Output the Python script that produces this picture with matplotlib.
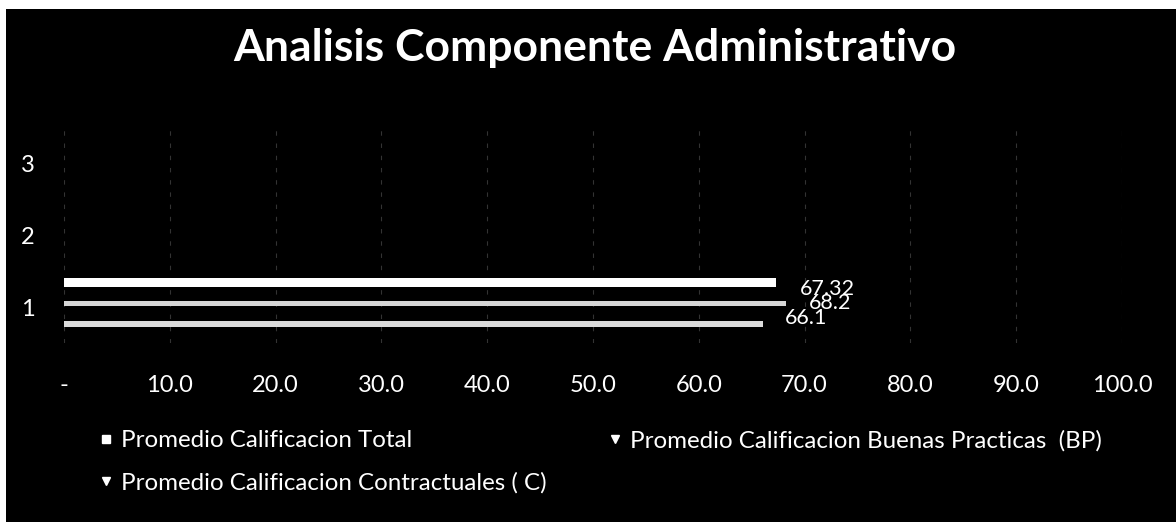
import matplotlib
matplotlib.use("Agg")
import matplotlib.pyplot as plt
from matplotlib.lines import Line2D
from matplotlib.patches import Rectangle
from matplotlib.ticker import FuncFormatter

# ---- data ----
title = "Analisis Componente Administrativo"
categories = [1, 2, 3]
series_names = [
    "Promedio Calificacion Total",
    "Promedio Calificacion Buenas Practicas  (BP)",
    "Promedio Calificacion Contractuales ( C)",
]
series_values = [67.32, 68.2, 66.1]   # all at category 1
value_labels = ["67.32", "68.2", "66.1"]
x_ticks = [0, 10, 20, 30, 40, 50, 60, 70, 80, 90, 100]

# ---- styling ----
plt.rcParams['font.family'] = ['Lato', 'DejaVu Sans']
W, H, DPI = 1176, 522, 100
fig = plt.figure(figsize=(W / DPI, H / DPI), dpi=DPI, facecolor='black')

# scanned white margins
fig.patches.append(Rectangle((0, 1 - 9 / H), 1, 9 / H, transform=fig.transFigure,
                             facecolor='white', edgecolor='none', zorder=0))
fig.patches.append(Rectangle((0, 0), 6 / W, 1, transform=fig.transFigure,
                             facecolor='white', edgecolor='none', zorder=0))

ax = fig.add_axes([64 / W, 179 / H, (1122 - 64) / W, (343 - 127) / H])
ax.set_facecolor('black')
ax.set_xlim(0, 100)
ax.set_ylim(0.5, 3.5)

offsets = [0.34, 0.055, -0.24]
heights = [0.125, 0.07, 0.08]
colors = ['#ffffff', '#d6d6d6', '#dcdcdc']
label_shift = [(24, -6.5), (23, 0), (22, 6.5)]  # pixels

for name, val, lab, off, h, c, (dx, dy) in zip(series_names, series_values, value_labels,
                                               offsets, heights, colors, label_shift):
    yc = categories[0] + off
    ax.barh(yc, val, height=h, color=c, edgecolor='none', zorder=3)
    ax.annotate(lab, xy=(val, yc), xytext=(dx * 0.72, dy * 0.72),
                textcoords='offset points', ha='left', va='center',
                color='white', fontsize=15.5, zorder=4)

# gridlines (faint, broken like a scan)
ax.set_xticks(x_ticks)
ax.grid(axis='x', color='#333333', linestyle=(0, (4, 7)), linewidth=0.8, zorder=1)
ax.set_axisbelow(True)

ax.set_yticks(categories)
ax.set_yticklabels([str(c) for c in categories])
ax.xaxis.set_major_formatter(FuncFormatter(lambda v, p: '-' if v == 0 else f"{v:.1f}"))

for s in ax.spines.values():
    s.set_visible(False)
ax.tick_params(axis='both', length=0, colors='white', labelsize=17)
ax.tick_params(axis='x', pad=23)
ax.tick_params(axis='y', pad=21)

fig.text(0.506, 1 - 48 / H, title, ha='center', va='center', color='white',
         fontsize=32, fontweight='bold')

handles = {
    series_names[0]: Line2D([], [], marker='s', linestyle='none', color='white',
                            markersize=6),
    series_names[1]: Line2D([], [], marker='v', linestyle='none', color='white',
                            markersize=6),
    series_names[2]: Line2D([], [], marker='v', linestyle='none', color='white',
                            markersize=6),
}
order = [series_names[0], series_names[2], series_names[1]]
leg = fig.legend([handles[n] for n in order], order, ncol=2,
                 loc='upper left', bbox_to_anchor=(82 / W, 1 - 413 / H),
                 frameon=False, fontsize=17.4, labelcolor='white',
                 handlelength=0.6, handletextpad=0.3, columnspacing=2.55,
                 labelspacing=0.85, borderpad=0.2)

fig.savefig('out.png', dpi=DPI, facecolor='black')
